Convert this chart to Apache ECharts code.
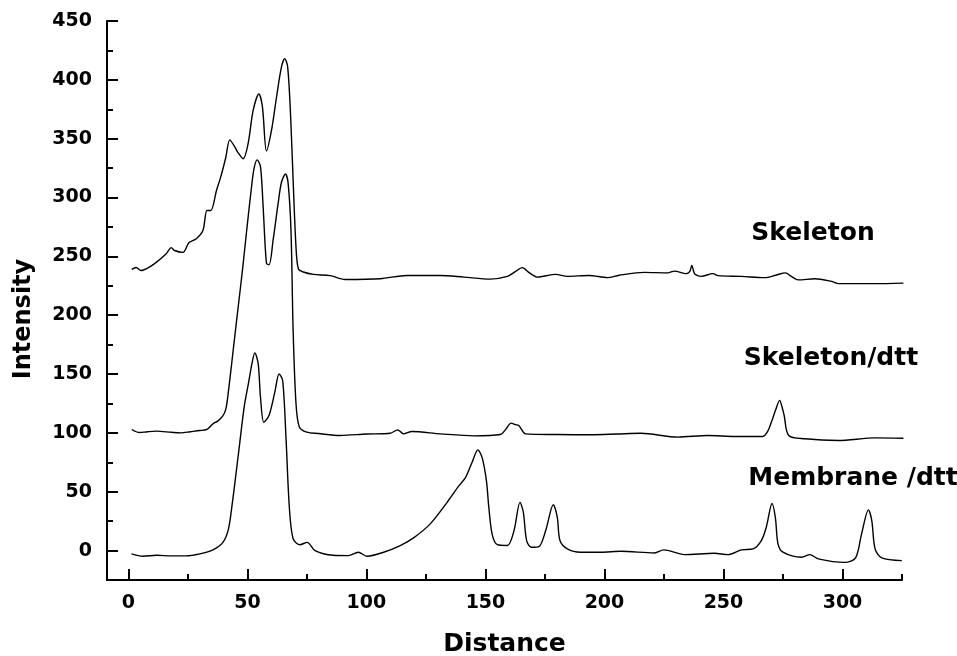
<!DOCTYPE html>
<html>
<head>
<meta charset="utf-8">
<script src="https://cdn.jsdelivr.net/npm/echarts@6/dist/echarts.min.js"></script>
<style>
  html, body { margin: 0; padding: 0; background: #fff; }
  #chart { width: 957px; height: 656px; }
</style>
</head>
<body>
<div id="chart"></div>
<script>
// 横轴刻度 / 纵轴刻度
var xTickLabels = [0, 50, 100, 150, 200, 250, 300];
var xMinorTicks = [25, 75, 125, 175, 225, 275, 325];
var yTickLabels = [0, 50, 100, 150, 200, 250, 300, 350, 400, 450];
var yMinorTicks = [25, 75, 125, 175, 225, 275, 325, 375, 425];

var seriesNames = ['Skeleton', 'Skeleton/dtt', 'Membrane /dtt'];

// [distance, intensity]
var skeleton = [
  [1.4, 239], [3.2, 240.6], [5.3, 238], [8, 240], [11, 243.8], [15.9, 252.3], [18, 257.4],
  [19.4, 255], [22.9, 253.4], [25.4, 261.6], [28.5, 265], [31.3, 272], [33, 289], [34.6, 289],
  [37, 306], [39, 319], [40.9, 334], [42.6, 349], [44.7, 343], [46.1, 338], [48.2, 333],
  [50.3, 346], [52.4, 374], [54.8, 388], [56.3, 377], [58, 339.5], [60.1, 357], [62.2, 385],
  [64.3, 411], [65.7, 418], [66.9, 411], [68.1, 371], [69.2, 314.6], [70.4, 258], [71.4, 239.5],
  [73.5, 236.7], [77.7, 234.7], [84.7, 233.6], [91, 230.4], [105.8, 231], [117, 233.8],
  [131, 233.8], [140.9, 232.4], [152, 230.7], [159.2, 233], [162.5, 237], [165.5, 240.4],
  [168.5, 236], [171.8, 232.4], [179.5, 234.7], [184.4, 233], [193.6, 233.8], [201.3, 231.9],
  [206.2, 234], [216.7, 236.4], [226.6, 236], [229.4, 237.5], [234.3, 235.3], [235.8, 237],
  [236.7, 242.3], [237.5, 237], [238.1, 234.7], [240.6, 233], [245.6, 235.3], [247.7, 233.6],
  [257.5, 233], [267.3, 231.9], [272, 234], [276, 236], [278.5, 233], [281.4, 230],
  [288.4, 231], [295.4, 228.7], [298.2, 226.8], [313.6, 226.8], [325.6, 227.3]
];

var skeletonDtt = [
  [1.4, 102.9], [4.6, 100.3], [8, 101], [12, 101.5], [18, 100.5], [22, 100], [26, 101],
  [30, 102], [33, 103], [35.5, 107.7], [37.5, 110], [39.5, 114], [40.9, 120], [42, 135],
  [44, 170], [46, 205], [48, 240], [50, 278], [51.5, 305], [52.7, 324], [54.1, 332],
  [55.5, 326], [56.6, 292], [58, 244], [59.1, 243], [60.8, 264], [62.9, 295], [64.3, 313],
  [66, 320], [67.1, 312], [68.3, 272], [69.2, 187], [70.4, 125], [71.8, 105], [74.9, 100.6],
  [79.8, 99.5], [88.9, 97.8], [100, 99], [110, 99.7], [113.1, 102.6], [115.6, 99.2],
  [119.1, 101.2], [131, 99.2], [145.1, 97.5], [156.3, 98.6], [158.5, 103], [160.8, 108.3],
  [162.5, 107], [164, 106.3], [166.9, 99.2], [180.2, 98.6], [194.3, 98.4], [205, 99],
  [215.3, 99.7], [230.8, 96.4], [243.4, 97.8], [255, 97], [266.6, 97], [268.5, 101],
  [270.1, 109], [272, 120], [273.6, 127.6], [274.6, 122], [275.5, 114.8], [277.4, 97.8],
  [284.2, 95], [298.2, 93.5], [313.7, 95.8], [325.6, 95.5]
];

var membraneDtt = [
  [1.3, -2.8], [6, -4.8], [12, -4], [18, -4.5], [24.3, -4.5], [30, -2.8], [35.5, 0.6],
  [39.7, 7], [42, 18], [43.5, 38], [45, 62], [46.8, 92], [48.7, 123], [50.5, 143], [52, 160],
  [53.1, 168], [54.5, 159], [55.5, 130], [56.9, 109], [59.1, 115], [61.5, 134.6], [63.3, 150],
  [64.8, 144.5], [66.2, 96], [67.6, 37], [69.2, 10], [72.1, 5], [75.1, 7], [78.4, 0],
  [86, -4], [92.4, -4.3], [96.6, -1.4], [100.2, -4.8], [107.2, -1.4], [114.2, 4.3],
  [119.8, 10.8], [126.8, 22.7], [133.9, 41], [138.8, 55], [141.6, 62], [144.4, 75],
  [146.8, 85.6], [148.6, 79], [150.4, 59.5], [151.4, 37], [152.8, 14], [155, 5], [159.2, 4.3],
  [162, 17], [164.5, 41], [165.9, 32.6], [167.3, 8.5], [169.3, 2.8], [172.5, 3.4], [175.3, 17],
  [178.5, 39], [180.2, 28], [181.3, 8.5], [184.4, 1.4], [190, -1.4], [198.5, -1.4],
  [206.9, -0.6], [221, -2], [224.9, 0.6], [233.6, -3.4], [246.2, -2.3], [251.9, -3.4],
  [257.5, 0.6], [262.4, 1.4], [265.9, 8.5], [268, 20], [270.4, 40], [271.8, 28], [272.9, 5.7],
  [275, -1.4], [282.8, -5.7], [286.3, -3.4], [289.8, -7], [301, -10], [305.5, -6.2], [308, 14],
  [310.9, 34.6], [312.3, 25.5], [313.7, 1.4], [316.5, -6.2], [324.9, -8.5]
];

var FONT = '"DejaVu Sans", sans-serif';
var chart = echarts.init(document.getElementById('chart'));

// kind: 'main' = 轴线+标签, 'major' = 长刻度, 'minor' = 短刻度
function makeAxis(isX, kind) {
  var axis = {
    type: 'value',
    position: isX ? 'bottom' : 'left',
    min: isX ? -9 : -25,
    max: isX ? 325 : 450,
    splitLine: { show: false },
    axisLine: { show: kind === 'main', onZero: false, lineStyle: { color: '#000', width: 2 } },
    axisTick: { show: false },
    axisLabel: { show: false }
  };
  if (kind === 'main') {
    axis.axisLabel = {
      show: true,
      customValues: isX ? xTickLabels : yTickLabels,
      color: '#000',
      fontFamily: FONT,
      fontWeight: 'bold',
      fontSize: 19,
      margin: isX ? 14 : 15
    };
    if (isX) {
      axis.name = 'Distance';
      axis.nameLocation = 'middle';
      axis.nameGap = 52;
      axis.nameTextStyle = { color: '#000', fontFamily: FONT, fontWeight: 'bold', fontSize: 25 };
    }
  } else {
    axis.axisTick = {
      show: true,
      inside: true,
      length: kind === 'major' ? 11 : 6,
      customValues: kind === 'major' ? (isX ? xTickLabels : yTickLabels) : (isX ? xMinorTicks : yMinorTicks),
      lineStyle: { color: '#000', width: 2 }
    };
  }
  return axis;
}

function makeSeries(name, data) {
  return {
    name: name,
    type: 'line',
    data: data,
    smooth: 0.3,
    showSymbol: false,
    symbol: 'none',
    silent: true,
    lineStyle: { color: '#000', width: 1.4 }
  };
}

function label(text, x, y, size, rot) {
  return {
    type: 'text', x: x, y: y, rotation: rot || 0,
    style: {
      text: text, font: 'bold ' + size + 'px ' + FONT, fill: '#000',
      align: 'center', verticalAlign: 'middle', textAlign: 'center', textVerticalAlign: 'middle'
    }
  };
}

var option = {
  animation: false,
  backgroundColor: '#fff',
  grid: { left: 107, right: 55, top: 21, bottom: 76, containLabel: false, outerBoundsMode: 'none' },
  xAxis: [makeAxis(true, 'main'), makeAxis(true, 'major'), makeAxis(true, 'minor')],
  yAxis: [makeAxis(false, 'main'), makeAxis(false, 'major'), makeAxis(false, 'minor')],
  series: [
    makeSeries(seriesNames[0], skeleton),
    makeSeries(seriesNames[1], skeletonDtt),
    makeSeries(seriesNames[2], membraneDtt)
  ],
  graphic: [
    label('Intensity', 24, 319, 24, Math.PI / 2),
    label(seriesNames[0], 813, 233, 25),
    label(seriesNames[1], 831, 358, 25),
    label(seriesNames[2], 853, 478, 25)
  ]
};

chart.setOption(option);
</script>
</body>
</html>
